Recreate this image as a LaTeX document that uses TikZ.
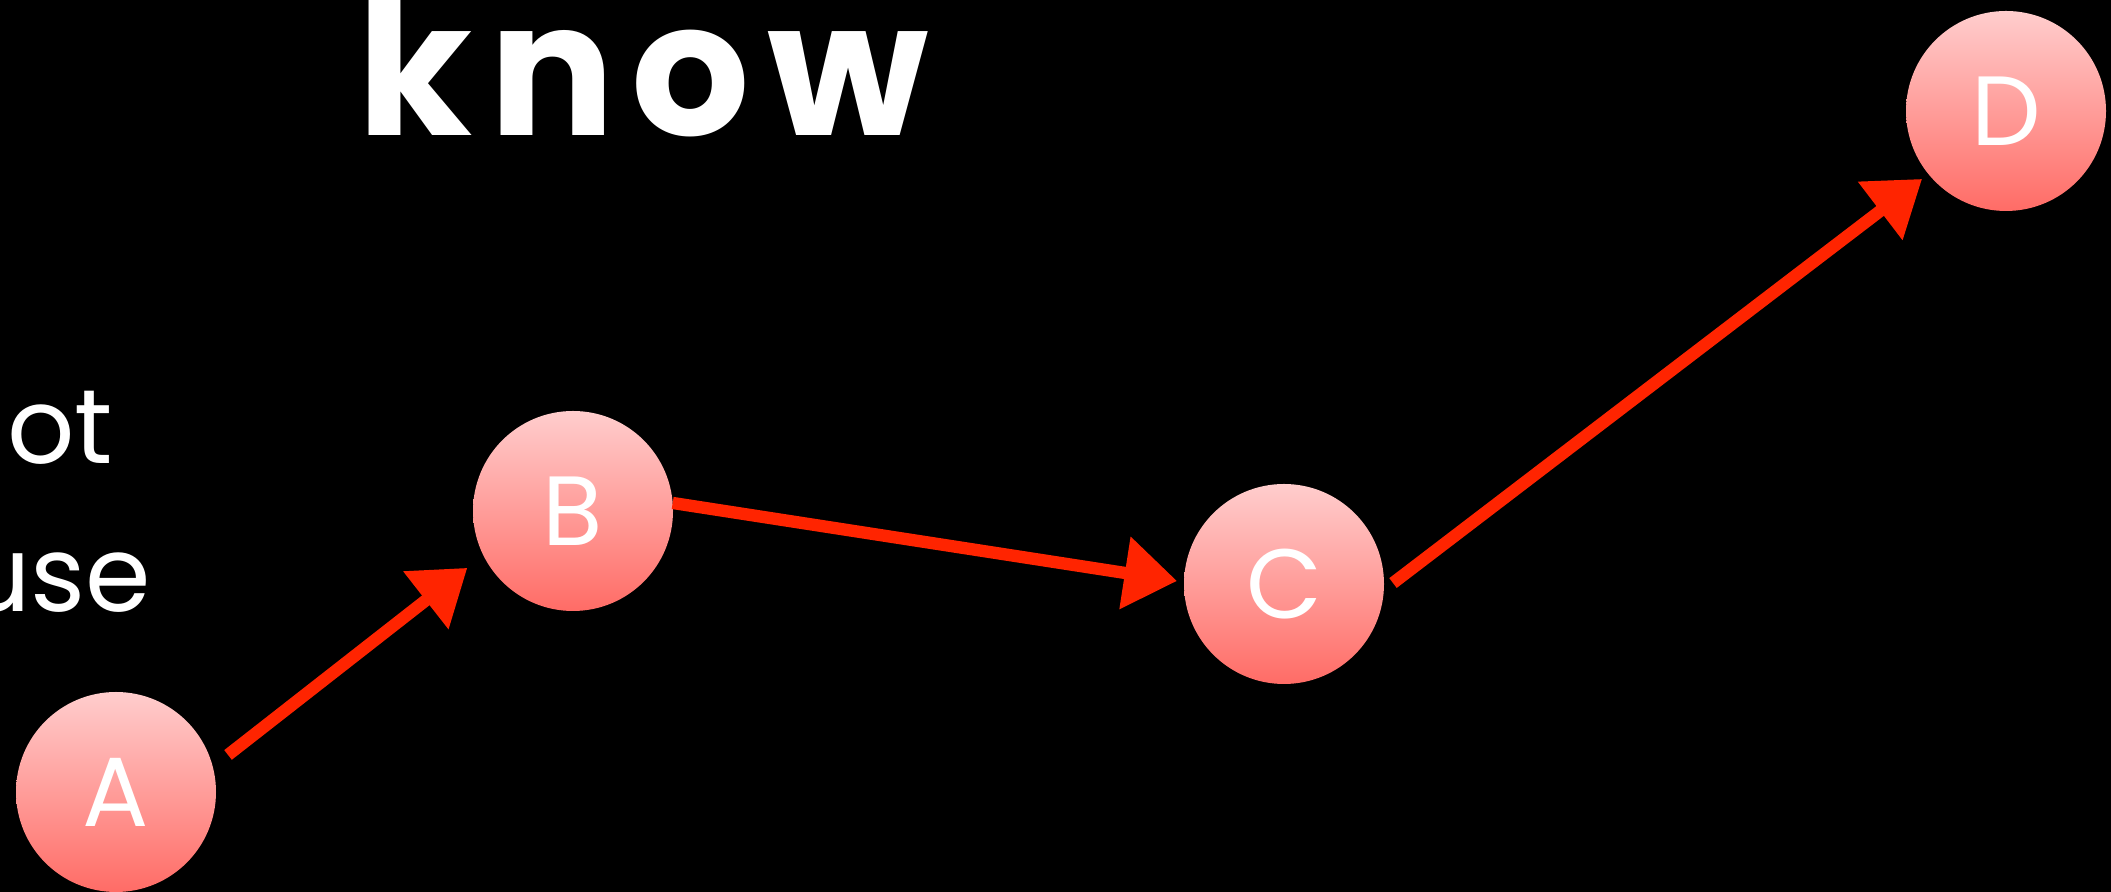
\documentclass[tikz,border=0pt]{standalone}
\usepackage{fontspec}
\setmainfont{Poppins}
\newfontfamily\chalk{Poppins}[LetterSpace=9]
\usetikzlibrary{arrows.meta,calc}
\definecolor{chalkred}{RGB}{255,36,0}
\definecolor{balltop}{RGB}{255,205,205}
\definecolor{ballbot}{RGB}{255,108,102}
\tikzset{
  ball/.style={circle, minimum size=20mm, inner sep=0pt, top color=balltop, bottom color=ballbot, draw=none,
    text=white, font=\fontsize{28pt}{28pt}\selectfont},
  chalkarrow/.style={draw=chalkred, line width=3.5pt, -{Triangle[length=15pt,width=20pt]}},
  slidetext/.style={text=white, inner sep=0pt},
  sidetext/.style={slidetext, anchor=base east, font=\fontsize{30pt}{30pt}\selectfont}
}
\begin{document}
\begin{tikzpicture}[x=0.1mm,y=0.1mm]
\clip (0,0) rectangle (2111,892);
\fill[black] (0,0) rectangle (2111,892);
% title and side text
\node[slidetext, anchor=base west, font=\chalk\bfseries\fontsize{53pt}{53pt}\selectfont] (title) at (357,756) {know};
\node[sidetext] (t1) at (114,428) {ot};
\node[sidetext] (t2) at (152,280) {use};
% nodes
\node[ball] (A) at (116,100) {A};
\node[ball] (B) at (573,381) {B};
\node[ball] (C) at (1284,308) {C};
\node[ball] (D) at (2006,781) {D};
% connectors
\draw[chalkarrow] ($(A)+(18.3:118)$) -- ($(B)+(208.3:120)$);
\draw[chalkarrow] ($(B)+(4.6:100)$) -- ($(C)+(178.4:107)$);
\draw[chalkarrow] ($(C)+(0.5:109)$) -- ($(D)+(219:108)$);
\end{tikzpicture}
\end{document}
